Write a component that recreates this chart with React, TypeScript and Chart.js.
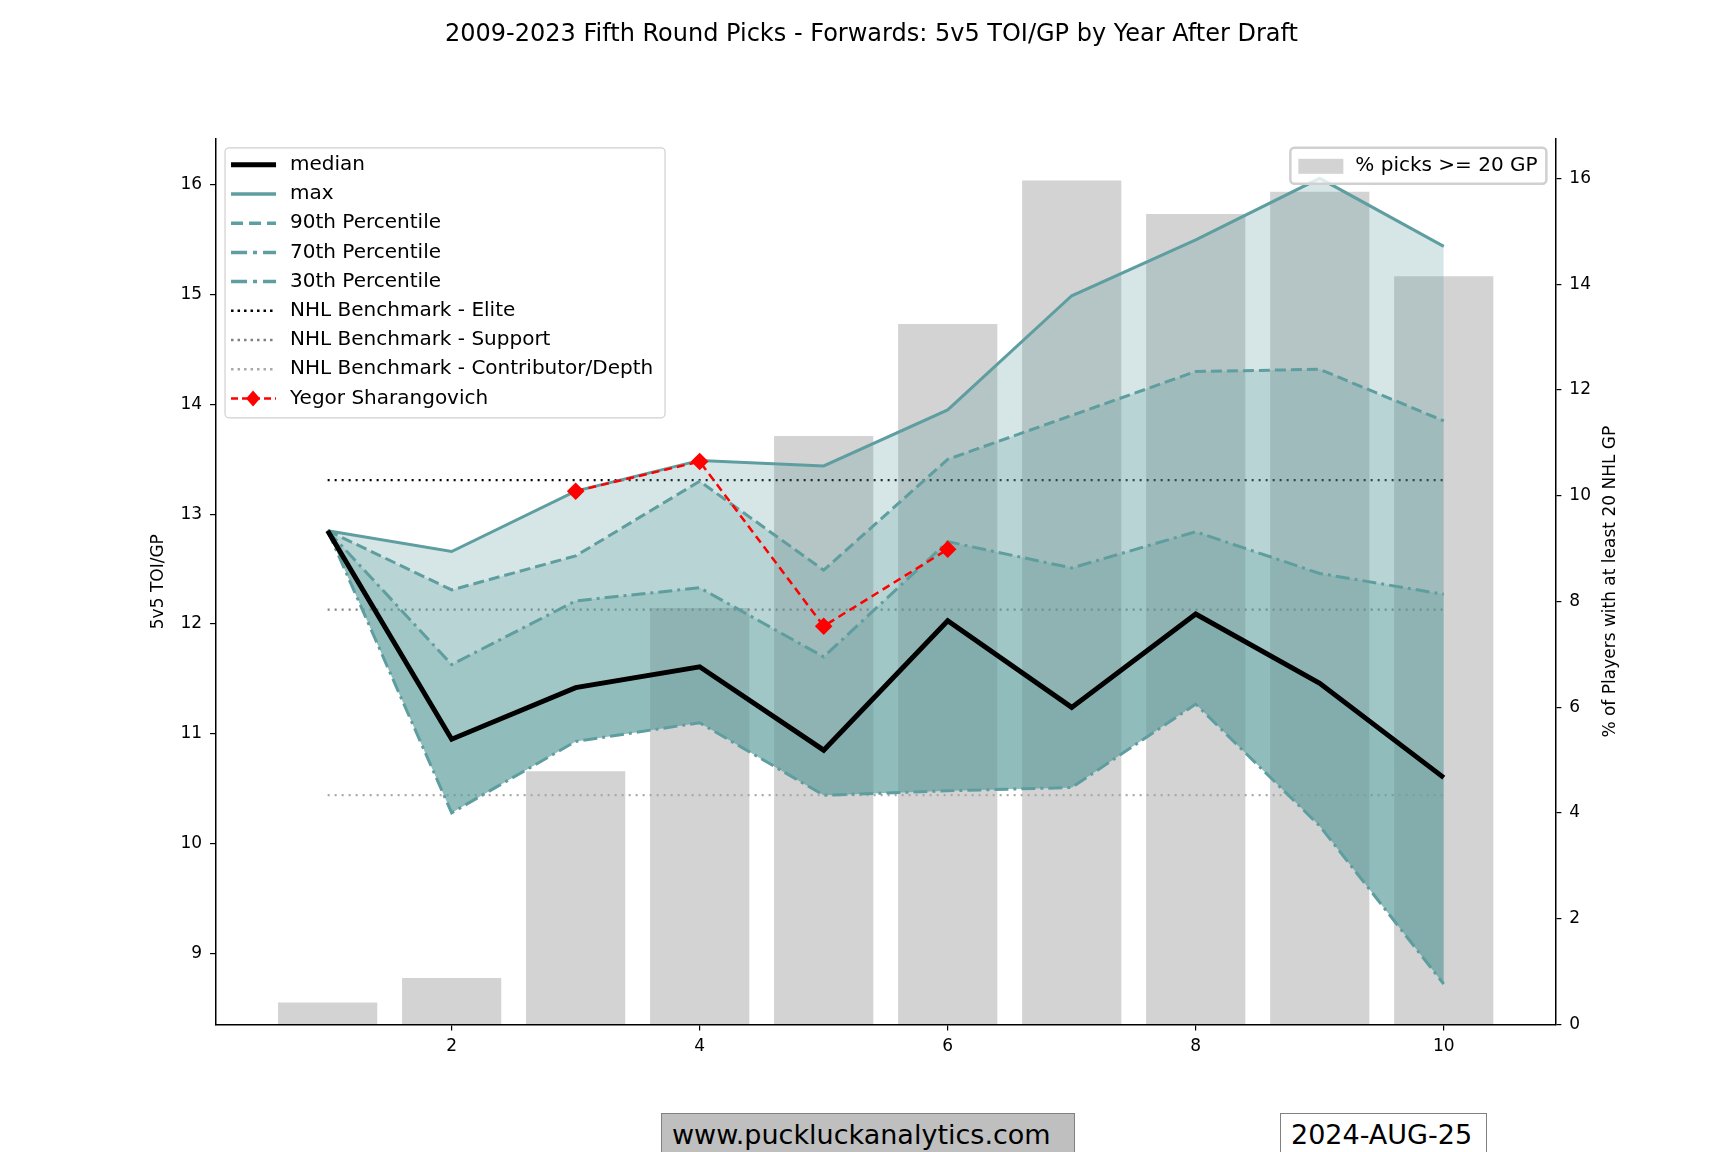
import React, { useEffect, useRef } from "react";
import { Chart, registerables } from "chart.js";
Chart.register(...registerables);

const years = [1, 2, 3, 4, 5, 6, 7, 8, 9, 10];
const pctPicks = [0.42, 0.88, 4.79, 7.88, 11.13, 13.25, 15.96, 15.33, 15.75, 14.15];
const maxVals = [12.85, 12.66, 13.21, 13.49, 13.44, 13.95, 14.99, 15.5, 16.06, 15.44];
const p90 = [12.85, 12.31, 12.62, 13.3, 12.49, 13.5, 13.9, 14.3, 14.32, 13.85];
const p70 = [12.85, 11.63, 12.21, 12.33, 11.7, 12.75, 12.51, 12.84, 12.46, 12.27];
const median = [12.85, 10.95, 11.42, 11.61, 10.85, 12.03, 11.24, 12.09, 11.46, 10.6];
const p30 = [12.85, 10.28, 10.93, 11.1, 10.44, 10.48, 10.51, 11.27, 10.16, 8.72];
const playerYears = [3, 4, 5, 6];
const playerVals = [13.21, 13.48, 11.98, 12.68];
const benchElite = 13.31;
const benchSupport = 12.13;
const benchDepth = 10.44;
const leftTicks = [9, 10, 11, 12, 13, 14, 15, 16];
const rightTicks = [0, 2, 4, 6, 8, 10, 12, 14, 16];
const xTicks = [2, 4, 6, 8, 10];

const TEAL = "#5f9ea0";
const FILL = "rgba(95,158,160,0.26)";
const FONT = "'DejaVu Sans', sans-serif";

const pts = (ys: number[], xs: number[] = years) => xs.map((x, i) => ({ x, y: ys[i] }));
const flat = (v: number) => [{ x: 1, y: v }, { x: 10, y: v }];

const legendItems = [
  { label: "median", color: "#000", width: 5, dash: [] as number[] },
  { label: "max", color: TEAL, width: 3.5, dash: [] },
  { label: "90th Percentile", color: TEAL, width: 3.5, dash: [12, 6] },
  { label: "70th Percentile", color: TEAL, width: 3.5, dash: [16, 6, 4, 6] },
  { label: "30th Percentile", color: TEAL, width: 3.5, dash: [16, 6, 4, 6] },
  { label: "NHL Benchmark - Elite", color: "#000", width: 2.5, dash: [2.5, 4] },
  { label: "NHL Benchmark - Support", color: "#808080", width: 2.5, dash: [2.5, 4] },
  { label: "NHL Benchmark - Contributor/Depth", color: "#a9a9a9", width: 2.5, dash: [2.5, 4] },
  { label: "Yegor Sharangovich", color: "red", width: 2.5, dash: [7, 4], marker: true },
];

const legendPlugin = {
  id: "customLegend",
  afterDraw(chart: any) {
    const { ctx, chartArea } = chart;
    ctx.save();
    ctx.font = `20px ${FONT}`;
    ctx.textBaseline = "middle";
    const x0 = chartArea.left + 9, y0 = chartArea.top + 9;
    const w = 440, h = 270, rowH = 29.2;
    ctx.fillStyle = "rgba(255,255,255,0.8)";
    ctx.strokeStyle = "#d0d0d0";
    ctx.lineWidth = 1.2;
    ctx.beginPath();
    ctx.roundRect(x0, y0, w, h, 4);
    ctx.fill();
    ctx.stroke();
    legendItems.forEach((it: any, i) => {
      const y = y0 + 17 + i * rowH;
      ctx.strokeStyle = it.color;
      ctx.lineWidth = it.width;
      ctx.setLineDash(it.dash);
      ctx.beginPath();
      ctx.moveTo(x0 + 6, y);
      ctx.lineTo(x0 + 51, y);
      ctx.stroke();
      ctx.setLineDash([]);
      if (it.marker) {
        ctx.fillStyle = "red";
        ctx.beginPath();
        ctx.moveTo(x0 + 28, y - 8);
        ctx.lineTo(x0 + 35, y);
        ctx.lineTo(x0 + 28, y + 8);
        ctx.lineTo(x0 + 21, y);
        ctx.closePath();
        ctx.fill();
      }
      ctx.fillStyle = "#000";
      ctx.fillText(it.label, x0 + 65, y);
    });
    const rw = 256, rh = 36;
    const rx = chartArea.right - 9 - rw, ry = chartArea.top + 9;
    ctx.fillStyle = "rgba(255,255,255,0.8)";
    ctx.strokeStyle = "#d0d0d0";
    ctx.beginPath();
    ctx.roundRect(rx, ry, rw, rh, 4);
    ctx.fill();
    ctx.stroke();
    ctx.fillStyle = "#d3d3d3";
    ctx.fillRect(rx + 8, ry + 11, 45, 15);
    ctx.fillStyle = "#000";
    ctx.fillText("% picks >= 20 GP", rx + 65, ry + rh / 2);
    ctx.font = `17px ${FONT}`;
    ctx.translate(chartArea.right + 55, (chartArea.top + chartArea.bottom) / 2);
    ctx.rotate(-Math.PI / 2);
    ctx.textAlign = "center";
    ctx.fillText("% of Players with at least 20 NHL GP", 0, 0);
    ctx.restore();
  },
};

const axisGrid = { drawOnChartArea: false, drawTicks: true, offset: false, tickLength: 6, color: "#000", lineWidth: 1.2 };

export default function App() {
  const ref = useRef<HTMLCanvasElement>(null);
  useEffect(() => {
    if (!ref.current) return;
    const line = (label: string, data: any, opts: any = {}) => ({
      type: "line" as const,
      label,
      data,
      yAxisID: "y",
      borderColor: TEAL,
      borderWidth: 3,
      pointRadius: 0,
      tension: 0,
      fill: false,
      order: 1,
      ...opts,
    });
    const chart = new Chart(ref.current, {
      data: {
        datasets: [
          line("30th Percentile", pts(p30), { borderDash: [14, 5, 3, 5] }),
          line("max", pts(maxVals), { fill: { target: 0 }, backgroundColor: FILL }),
          line("90th Percentile", pts(p90), { borderDash: [11, 5], fill: { target: 0 }, backgroundColor: FILL }),
          line("70th Percentile", pts(p70), { borderDash: [14, 5, 3, 5], fill: { target: 0 }, backgroundColor: FILL }),
          line("median", pts(median), { borderColor: "#000", borderWidth: 5, fill: { target: 0 }, backgroundColor: FILL, order: 0 }),
          line("NHL Benchmark - Elite", flat(benchElite), { borderColor: "#000", borderWidth: 2.2, borderDash: [2, 5] }),
          line("NHL Benchmark - Support", flat(benchSupport), { borderColor: "#808080", borderWidth: 2.2, borderDash: [2, 5] }),
          line("NHL Benchmark - Contributor/Depth", flat(benchDepth), { borderColor: "#a9a9a9", borderWidth: 2.2, borderDash: [2, 5] }),
          line("Yegor Sharangovich", pts(playerVals, playerYears), {
            borderColor: "red", borderWidth: 2.5, borderDash: [8, 5], pointStyle: "rectRot",
            pointRadius: 7, pointBackgroundColor: "red", pointBorderColor: "red", order: 0,
          }),
          {
            type: "bar" as const,
            label: "% picks >= 20 GP",
            data: pts(pctPicks),
            yAxisID: "y1",
            backgroundColor: "#d3d3d3",
            barPercentage: 1,
            categoryPercentage: 0.8,
            order: 5,
          },
        ],
      },
      options: {
        animation: false,
        responsive: false,
        layout: { padding: { left: 144, right: 129, top: 20, bottom: 89 } },
        plugins: {
          legend: { display: false },
          tooltip: { enabled: false },
          title: {
            display: true,
            text: "2009-2023 Fifth Round Picks - Forwards: 5v5 TOI/GP by Year After Draft",
            color: "#000",
            font: { family: FONT, size: 24, weight: "normal" },
            padding: { top: 0, bottom: 90 },
          },
        },
        scales: {
          x: {
            type: "linear",
            min: 0.1,
            max: 10.9,
            offset: false,
            grid: axisGrid,
            border: { color: "#000", width: 1.5 },
            afterBuildTicks: (s: any) => { s.ticks = xTicks.map((v) => ({ value: v })); },
            ticks: { color: "#000", font: { family: FONT, size: 17 }, padding: 6 },
          },
          y: {
            position: "left",
            min: 8.35,
            max: 16.42,
            grid: axisGrid,
            border: { color: "#000", width: 1.5 },
            afterBuildTicks: (s: any) => { s.ticks = leftTicks.map((v) => ({ value: v })); },
            ticks: { color: "#000", font: { family: FONT, size: 17 }, padding: 8 },
            title: { display: true, text: "5v5 TOI/GP", color: "#000", font: { family: FONT, size: 17 } },
          },
          y1: {
            position: "right",
            min: 0,
            max: 16.75,
            grid: axisGrid,
            border: { color: "#000", width: 1.5 },
            afterBuildTicks: (s: any) => { s.ticks = rightTicks.map((v) => ({ value: v })); },
            ticks: { color: "#000", font: { family: FONT, size: 17 }, padding: 8 },
          },
        },
      },
      plugins: [legendPlugin],
    } as any);
    return () => chart.destroy();
  }, []);
  const box: React.CSSProperties = {
    position: "absolute",
    top: 1113,
    height: 44,
    boxSizing: "border-box",
    border: "1.5px solid #808080",
    fontFamily: FONT,
    fontSize: 27,
    lineHeight: "41px",
    padding: "0 10px",
    color: "#000",
  };
  return (
    <div style={{ position: "absolute", left: 0, top: 0, width: 1728, height: 1152, background: "#fff", overflow: "hidden" }}>
      <style>{"body{margin:0}"}</style>
      <canvas ref={ref} width={1728} height={1152} style={{ display: "block" }} />
      <div style={{ ...box, left: 661, width: 414, background: "#bfbfbf" }}>www.puckluckanalytics.com</div>
      <div style={{ ...box, left: 1280, width: 207, background: "#fff" }}>2024-AUG-25</div>
    </div>
  );
}
